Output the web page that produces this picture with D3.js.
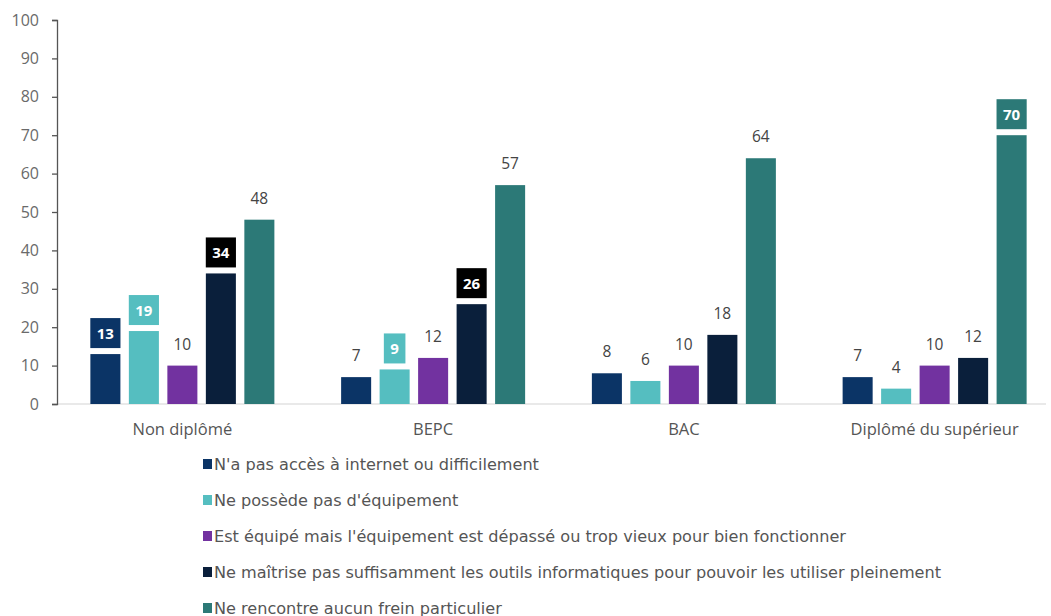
<!DOCTYPE html>
<html><head><meta charset="utf-8">
<script src="https://cdn.jsdelivr.net/npm/d3@7"></script>
<style>
html,body{margin:0;padding:0;background:#fff;}
svg{display:block;}
</style></head>
<body>
<svg id="chart" width="1051" height="616"></svg>
<script>
const categories = ["Non diplômé", "BEPC", "BAC", "Diplômé du supérieur"];
const seriesNames = [
  "N'a pas accès à internet ou difficilement",
  "Ne possède pas d'équipement",
  "Est équipé mais l'équipement est dépassé ou trop vieux pour bien fonctionner",
  "Ne maîtrise pas suffisamment les outils informatiques pour pouvoir les utiliser pleinement",
  "Ne rencontre aucun frein particulier"
];
const seriesColors = ["#0b3466", "#55bec0", "#7232a0", "#0a1f3b", "#2c7977"];
const noAccess = [13, 7, 8, 7];
const noEquipment = [19, 9, 6, 4];
const outdated = [10, 12, 10, 10];
const noSkills = [34, 26, 18, 12];
const noObstacle = [48, 57, 64, 70];
const seriesValues = [noAccess, noEquipment, outdated, noSkills, noObstacle];
// labels drawn in a filled box (series index, category index, box colour)
const boxedLabels = [
  {s: 0, c: 0, fill: "#0b3466"},
  {s: 1, c: 0, fill: "#55bec0"},
  {s: 3, c: 0, fill: "#000000"},
  {s: 1, c: 1, fill: "#55bec0"},
  {s: 3, c: 1, fill: "#000000"},
  {s: 4, c: 3, fill: "#2c7977"}
];
const yTicks = [0, 10, 20, 30, 40, 50, 60, 70, 80, 90, 100];

const svg = d3.select("#chart");
const font = "'Open Sans', 'DejaVu Sans', sans-serif";

const y = d3.scaleLinear().domain([0, 100]).range([404, 20]);
const x0 = d3.scaleBand().domain(categories).range([57, 1060]).padding(0);
const x1 = d3.scaleBand().domain(d3.range(seriesNames.length)).range([-92, 92]).paddingInner(0.22).paddingOuter(0);

// x baseline
svg.append("line").attr("x1", 57).attr("x2", 1046).attr("y1", y(0)).attr("y2", y(0))
  .attr("stroke", "#d4d4d4").attr("stroke-width", 1.2);

// y axis
const yAxis = d3.axisLeft(y).tickValues(yTicks).tickSize(5).tickPadding(13);
const gy = svg.append("g").attr("transform", "translate(57,0)").call(yAxis);
gy.select(".domain").attr("stroke", "#555").attr("stroke-width", 1.3);
gy.selectAll(".tick line").attr("stroke", "#555").attr("stroke-width", 1.3);
gy.selectAll(".tick text").attr("font-family", font).attr("font-size", 16).attr("fill", "#6a6a6a");

// category labels
svg.append("g").selectAll("text").data(categories).join("text")
  .attr("x", d => x0(d) + x0.bandwidth() / 2)
  .attr("y", 435)
  .attr("text-anchor", "middle")
  .attr("font-family", font).attr("font-size", 16.5).attr("fill", "#555")
  .text(d => d);

// bars
const bars = [];
seriesValues.forEach((vals, s) => vals.forEach((v, c) => bars.push({s, c, v})));
const boxedKey = new Map(boxedLabels.map(b => [b.s + "-" + b.c, b.fill]));

svg.append("g").selectAll("rect").data(bars).join("rect")
  .attr("x", d => x0(categories[d.c]) + x0.bandwidth() / 2 + x1(d.s))
  .attr("y", d => y(d.v))
  .attr("width", x1.bandwidth())
  .attr("height", d => y(0) - y(d.v))
  .attr("fill", d => seriesColors[d.s]);

// labels
const lg = svg.append("g");
bars.forEach(d => {
  const cx = x0(categories[d.c]) + x0.bandwidth() / 2 + x1(d.s) + x1.bandwidth() / 2;
  const top = y(d.v);
  const key = d.s + "-" + d.c;
  if (boxedKey.has(key)) {
    const t = lg.append("text").attr("x", cx).attr("y", top - 6 - 15 + 5.5)
      .attr("text-anchor", "middle").attr("font-family", font).attr("font-size", 15)
      .attr("font-weight", "bold").attr("fill", "#fff").text(d.v);
    const w = t.node().getComputedTextLength() + 13;
    lg.insert("rect", "text").attr("x", cx - w / 2).attr("y", top - 6 - 30)
      .attr("width", w).attr("height", 30).attr("fill", boxedKey.get(key));
  } else {
    lg.append("text").attr("x", cx).attr("y", top - 16)
      .attr("text-anchor", "middle").attr("font-family", font).attr("font-size", 15.5)
      .attr("fill", "#444").text(d.v);
  }
});

// legend
const leg = svg.append("g").selectAll("g").data(seriesNames).join("g")
  .attr("transform", (d, i) => `translate(203, ${464 + i * 36})`);
leg.append("rect").attr("x", 0).attr("y", -5).attr("width", 9).attr("height", 10)
  .attr("fill", (d, i) => seriesColors[i]);
const legText = leg.append("text").attr("x", 11).attr("y", 5.5)
  .attr("font-family", "'DejaVu Sans Condensed', 'DejaVu Sans', sans-serif")
  .attr("font-size", 16).attr("fill", "#555").text(d => d);
// stretch horizontally so the longest entry spans like the reference
const natural = legText.nodes().map(n => n.getComputedTextLength());
const factor = 727 / d3.max(natural);
legText.attr("textLength", (d, i) => natural[i] * factor).attr("lengthAdjust", "spacingAndGlyphs");
</script>
</body></html>
